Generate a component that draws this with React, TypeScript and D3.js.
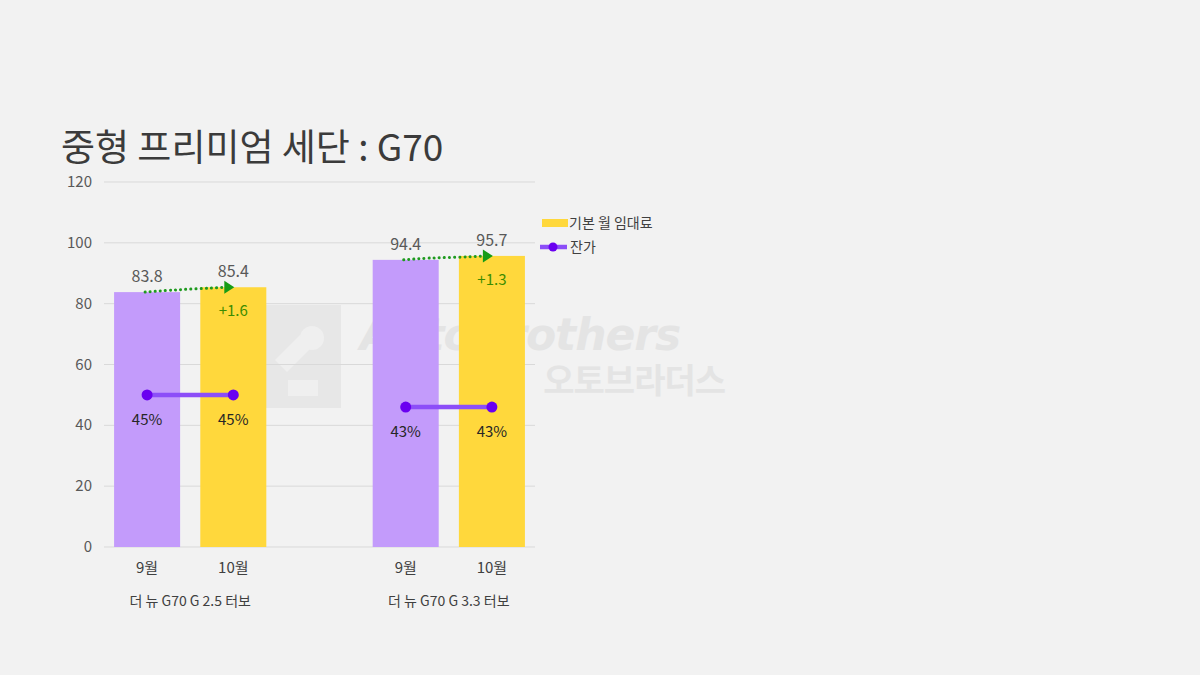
import React from "react";
import * as d3 from "d3";

const slots = ["g1-9", "g1-10", "gap", "g2-9", "g2-10"];
const monthLabels = ["9월", "10월", "", "9월", "10월"];
const rentValues = [83.8, 85.4, NaN, 94.4, 95.7];
const residualValues = [45, 45, NaN, 43, 43];
const groupNames = ["더 뉴 G70 G 2.5 터보", "더 뉴 G70 G 3.3 터보"];
const changeLabels = ["+1.6", "+1.3"];
const yTicks = [0, 20, 40, 60, 80, 100, 120];

const W = 1200;
const H = 675;
const FONT = "'Noto Sans CJK KR', 'Noto Sans', sans-serif";

export default function App() {
  const x = d3.scaleBand<string>().domain(slots).range([104, 535]).paddingInner(0.234).paddingOuter(0.117);
  const y = d3.scaleLinear().domain([0, 120]).range([547, 182]);
  const y2 = d3.scaleLinear().domain([20, 80]).range([547, 182]);
  const bw = x.bandwidth();
  const cx = (i: number) => (x(slots[i]) as number) + bw / 2;
  const colors = ["#c39bfb", "#ffd83c", "none", "#c39bfb", "#ffd83c"];
  const groups = [[0, 1], [3, 4]];

  const curve = d3.line<[number, number]>().curve(d3.curveBasis);

  return (
    <svg width={W} height={H} style={{ position: "absolute", left: 0, top: 0, background: "#f2f2f2" }} fontFamily={FONT}>
      <rect x={0} y={0} width={W} height={H} fill="#f2f2f2" />
      {/* watermark */}
      <g>
        <rect x={265} y={305} width={76} height={103} fill="#e7e7e7" />
        <path d="M275,360 L300,335 L312,347 L287,372 Z M288,380 L318,380 L318,396 L288,396 Z" fill="#efefef" />
        <circle cx={312} cy={338} r={12} fill="#efefef" />
        <text x={360} y={350} fontSize={44} fontWeight={700} fontStyle="italic" fill="#e4e4e4" fontFamily="'DejaVu Sans'" letterSpacing={-1}>AutoBrothers</text>
        <text x={725} y={393} fontSize={34} fontWeight={700} fill="#e4e4e4" textAnchor="end" letterSpacing={-1}>오토브라더스</text>
      </g>
      {/* title */}
      <text x={61} y={161} fontSize={37} fontWeight={400} fill="#3b3b3b">중형 프리미엄 세단 : G70</text>
      {/* gridlines & y ticks */}
      {yTicks.map((t) => (
        <g key={t}>
          <line x1={104} x2={535} y1={y(t)} y2={y(t)} stroke="#d9d9d9" strokeWidth={1} />
          <text x={92} y={y(t) + 5} textAnchor="end" fontSize={15} fill="#595959">{t}</text>
        </g>
      ))}
      {/* bars */}
      {slots.map((s, i) =>
        isNaN(rentValues[i]) ? null : (
          <rect key={s} x={x(s)} y={y(rentValues[i])} width={bw} height={y(0) - y(rentValues[i])} fill={colors[i]} />
        )
      )}
      {/* value labels */}
      {slots.map((s, i) =>
        isNaN(rentValues[i]) ? null : (
          <text key={"v" + s} x={cx(i)} y={y(rentValues[i]) - 10} textAnchor="middle" fontSize={16} fill="#595959">
            {rentValues[i].toFixed(1)}
          </text>
        )
      )}
      {/* change arrows */}
      {groups.map(([a, b], gi) => {
        const x0 = cx(a) - 2;
        const x1 = cx(b) - 6;
        const y0 = y(rentValues[a]);
        const y1 = y(rentValues[b]);
        const pts: [number, number][] = [
          [x0, y0],
          [x0 + (x1 - x0) * 0.3, y0 - 2],
          [x0 + (x1 - x0) * 0.65, y1 + 1.5],
          [x1, y1],
        ];
        const tip = cx(b) + 1;
        return (
          <g key={"arr" + gi}>
            <path d={curve(pts) || ""} fill="none" stroke="#1f9a1f" strokeWidth={3} strokeDasharray="0.1 5" strokeLinecap="round" />
            <path d={`M${tip - 10},${y1 - 6.5} L${tip},${y1} L${tip - 10},${y1 + 6.5} Z`} fill="#169c16" />
            <text x={cx(b)} y={y1 + 29} textAnchor="middle" fontSize={15} fill="#3d8c00">{changeLabels[gi]}</text>
          </g>
        );
      })}
      {/* residual lines */}
      {groups.map(([a, b], gi) => (
        <g key={"res" + gi}>
          <line x1={cx(a)} x2={cx(b)} y1={y2(residualValues[a])} y2={y2(residualValues[b])} stroke="#8c4ef8" strokeWidth={4.5} />
          {[a, b].map((i) => (
            <g key={i}>
              <circle cx={cx(i)} cy={y2(residualValues[i])} r={5.5} fill="#6a00f0" />
              <text x={cx(i)} y={y2(residualValues[i]) + 30} textAnchor="middle" fontSize={15} fill="#262626">
                {residualValues[i]}%
              </text>
            </g>
          ))}
        </g>
      ))}
      {/* x labels */}
      {slots.map((s, i) =>
        monthLabels[i] ? (
          <text key={"m" + s} x={cx(i)} y={573} textAnchor="middle" fontSize={15} fill="#404040">{monthLabels[i]}</text>
        ) : null
      )}
      {groups.map(([a, b], gi) => (
        <text key={"gn" + gi} x={(cx(a) + cx(b)) / 2} y={606} textAnchor="middle" fontSize={14} fill="#404040">{groupNames[gi]}</text>
      ))}
      {/* legend */}
      <rect x={542} y={219} width={26} height={8} fill="#ffd83c" />
      <text x={569} y={228} fontSize={14} fill="#404040">기본 월 임대료</text>
      <line x1={540} x2={567} y1={247} y2={247} stroke="#8c4ef8" strokeWidth={4.5} />
      <circle cx={553} cy={247} r={4.5} fill="#6a00f0" />
      <text x={570} y={252} fontSize={14} fill="#404040">잔가</text>
    </svg>
  );
}
